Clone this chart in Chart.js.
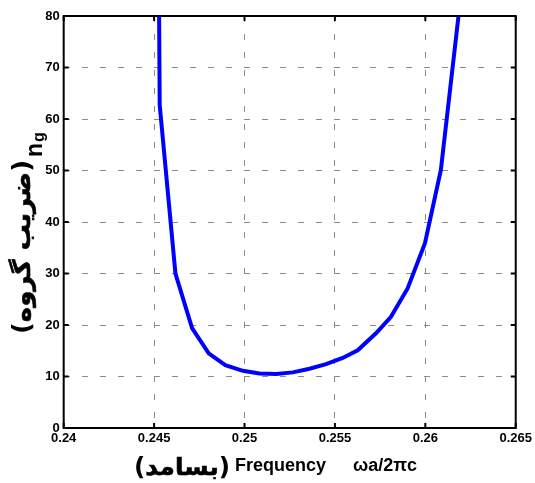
<!DOCTYPE html>
<html>
<head>
<meta charset="utf-8">
<script src="https://cdn.jsdelivr.net/npm/chart.js@4/dist/chart.umd.min.js"></script>
<style>
html,body{margin:0;padding:0;background:#fff;}
#wrap{width:535px;height:483px;}
</style>
</head>
<body>
<div id="wrap"><canvas id="c" width="535" height="483"></canvas></div>
<script>
const frequency = [0.2452, 0.24531, 0.24618, 0.24710, 0.24802, 0.24894, 0.24991, 0.25083, 0.25175, 0.25267, 0.25359, 0.25451, 0.25543, 0.25626, 0.25727, 0.25810, 0.25902, 0.25998, 0.26086, 0.2619];
const groupIndex = [120, 62.7, 30.0, 19.4, 14.5, 12.2, 11.1, 10.6, 10.5, 10.8, 11.5, 12.4, 13.6, 15.1, 18.4, 21.6, 27.1, 35.9, 50.1, 82];
const xTickLabels = ['0.24', '0.245', '0.25', '0.255', '0.26', '0.265'];
const yTickLabels = ['0', '10', '20', '30', '40', '50', '60', '70', '80'];
const xTitleFa = 'بسامد';
const xTitleEn = 'Frequency';
const xTitleSym = '\u03C9a/2\u03C0c';
const yTitleFa = 'ضریب گروه';
const yTitleMain = 'n';
const yTitleSub = 'g';

const points = frequency.map((f, i) => ({x: f, y: groupIndex[i]}));

const FA_FONT = 'bold 24px "DejaVu Sans", sans-serif';
const EN = (s) => 'bold ' + s + 'px "Liberation Sans", Arial, sans-serif';

// draws "(" + persian word + ")" as separate pieces, stretched to targetW
function drawParenFa(ctx, word, x, y, targetW) {
  ctx.font = FA_FONT;
  const wo = ctx.measureText('(').width;
  const ww = ctx.measureText(word).width;
  const wc = ctx.measureText(')').width;
  const total = wo + ww + wc;
  ctx.save();
  ctx.translate(x, y);
  ctx.scale(targetW / total, 1);
  ctx.textAlign = 'left';
  ctx.strokeStyle = '#000';
  ctx.lineWidth = 0.6;
  ctx.fillText('(', 0, 0);
  ctx.fillText(word, wo, 0);
  ctx.strokeText(word, wo, 0);
  ctx.fillText(')', wo + ww, 0);
  ctx.restore();
}

const boxPlugin = {
  id: 'box',
  afterDraw(chart) {
    const {ctx, chartArea: a, scales} = chart;
    ctx.save();
    ctx.strokeStyle = '#000';
    ctx.lineWidth = 2;
    ctx.strokeRect(a.left, a.top, a.right - a.left, a.bottom - a.top);
    ctx.beginPath();
    scales.x.ticks.forEach(t => {
      const px = scales.x.getPixelForValue(t.value);
      ctx.moveTo(px, a.bottom); ctx.lineTo(px, a.bottom - 5);
      ctx.moveTo(px, a.top); ctx.lineTo(px, a.top + 5);
    });
    scales.y.ticks.forEach(t => {
      const py = scales.y.getPixelForValue(t.value);
      ctx.moveTo(a.left, py); ctx.lineTo(a.left + 5, py);
      ctx.moveTo(a.right, py); ctx.lineTo(a.right - 5, py);
    });
    ctx.stroke();
    ctx.fillStyle = '#000';
    ctx.textBaseline = 'alphabetic';
    ctx.direction = 'ltr';

    // x title
    drawParenFa(ctx, xTitleFa, 134, 475, 96);
    ctx.font = EN(18);
    ctx.textAlign = 'left';
    ctx.fillText(xTitleEn, 235, 471);
    ctx.fillText(xTitleSym, 353, 471);

    // y title (rotated)
    ctx.save();
    ctx.rotate(-Math.PI / 2);
    drawParenFa(ctx, yTitleFa, -334, 30, 174);
    ctx.font = EN(23);
    ctx.textAlign = 'left';
    ctx.fillText(yTitleMain, -157, 42);
    const wn = ctx.measureText(yTitleMain).width;
    ctx.font = EN(16);
    ctx.fillText(yTitleSub, -157 + wn + 1, 44);
    ctx.restore();

    ctx.restore();
  }
};

new Chart(document.getElementById('c'), {
  type: 'line',
  data: {
    datasets: [{
      data: points,
      borderColor: '#0000FF',
      borderWidth: 4,
      pointRadius: 0,
      tension: 0,
      fill: false
    }]
  },
  options: {
    responsive: false,
    animation: false,
    devicePixelRatio: 1,
    layout: {padding: {top: 16, right: 18.3, left: 0, bottom: 0}},
    plugins: {legend: {display: false}, tooltip: {enabled: false}},
    scales: {
      x: {
        type: 'linear',
        min: 0.24, max: 0.265,
        afterFit(s) { s.height = 55; },
        ticks: {
          stepSize: 0.005,
          autoSkip: false, maxRotation: 0, minRotation: 0,
          padding: 3,
          color: '#000',
          font: {family: '"Liberation Sans", Arial, sans-serif', size: 13, weight: 'bold'},
          callback: (v, i) => xTickLabels[i]
        },
        grid: {color: '#8a8a8a', lineWidth: 1, drawTicks: false},
        border: {display: false, dash: [6, 12]}
      },
      y: {
        min: 0, max: 80,
        afterFit(s) { s.width = 63.7; },
        ticks: {
          stepSize: 10,
          padding: 4,
          color: '#000',
          font: {family: '"Liberation Sans", Arial, sans-serif', size: 13, weight: 'bold'},
          callback: (v, i) => yTickLabels[i]
        },
        grid: {color: '#8a8a8a', lineWidth: 1, drawTicks: false},
        border: {display: false, dash: [6, 12]}
      }
    }
  },
  plugins: [boxPlugin]
});
</script>
</body>
</html>
